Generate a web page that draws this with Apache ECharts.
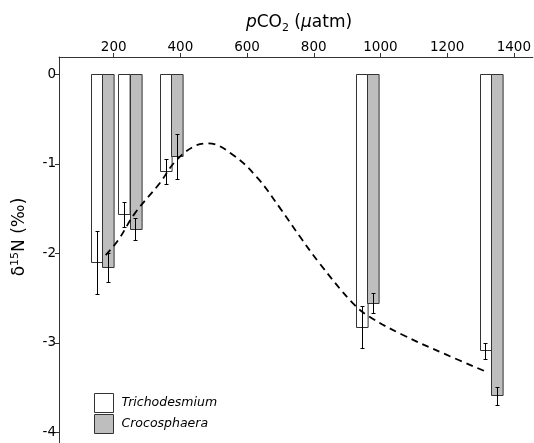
<!DOCTYPE html>
<html>
<head>
<meta charset="utf-8">
<script src="https://cdn.jsdelivr.net/npm/echarts@6/dist/echarts.min.js"></script>
<style>html,body{margin:0;padding:0;background:#fff}#c{width:534px;height:443px}</style>
</head>
<body>
<div id="c"></div>
<script>
// pCO2 positions of the bar groups (µatm)
const pco2 = [166, 248, 373, 961, 1332];
// Trichodesmium δ15N mean and error
const trichoMean = [-2.10, -1.57, -1.08, -2.825, -3.09];
const trichoErr = [0.35, 0.14, 0.14, 0.235, 0.09];
// Crocosphaera δ15N mean and error
const crocoMean = [-2.16, -1.73, -0.92, -2.557, -3.59];
const crocoErr = [0.16, 0.12, 0.25, 0.11, 0.10];
// dashed fitted curve
const curveX = [176, 214, 264, 338, 383, 438, 483, 558, 632, 700, 760, 817, 917, 966, 1066, 1196, 1315];
const curveY = [-2.02, -1.85, -1.55, -1.216, -0.98, -0.81, -0.77, -0.9, -1.16, -1.5, -1.82, -2.11, -2.557, -2.706, -2.91, -3.13, -3.32];
// tick labels
const xTicks = [200, 400, 600, 800, 1000, 1200, 1400];
const yTicks = [0, -1, -2, -3, -4];

const BW = 11.6;
const edge = '#333';
const gray = '#bebebe';

function barSeries(name, mean, side, color) {
  return {
    name: name, type: 'custom',
    itemStyle: {color: color, borderColor: edge, borderWidth: 1},
    data: pco2.map((x, i) => [x, mean[i]]),
    renderItem: function (params, api) {
      const top = api.coord([api.value(0), 0]);
      const bot = api.coord([api.value(0), api.value(1)]);
      const x0 = side < 0 ? top[0] - BW : top[0];
      return {type: 'rect', shape: {x: Math.round(x0) + 0.5, y: Math.round(top[1]) + 0.5, width: BW, height: Math.round(bot[1] - top[1])},
        style: {fill: color, stroke: edge, lineWidth: 1}};
    },
    z: 2
  };
}
function errSeries(mean, err, side) {
  return {
    type: 'custom', silent: true,
    data: pco2.map((x, i) => [x, mean[i], err[i]]),
    renderItem: function (params, api) {
      const x = api.value(0), m = api.value(1), e = api.value(2);
      const a = api.coord([x, m + e]);
      const b = api.coord([x, m - e]);
      const cx = Math.round(a[0] + side * BW / 2) + 0.5;
      const ya = Math.round(a[1]) + 0.5, yb = Math.round(b[1]) + 0.5;
      const st = {stroke: '#000', lineWidth: 1};
      return {type: 'group', children: [
        {type: 'line', shape: {x1: cx, y1: ya, x2: cx, y2: yb}, style: st},
        {type: 'line', shape: {x1: cx - 2, y1: ya, x2: cx + 2, y2: ya}, style: st},
        {type: 'line', shape: {x1: cx - 2, y1: yb, x2: cx + 2, y2: yb}, style: st}
      ]};
    },
    z: 3
  };
}

const chart = echarts.init(document.getElementById('c'));
chart.setOption({
  animation: false,
  backgroundColor: '#fff',
  grid: {left: 59, top: 57, right: 0, bottom: 0, containLabel: false},
  xAxis: {
    type: 'value', position: 'top', min: 36, max: 1457,
    axisLine: {show: true, onZero: false, lineStyle: {color: edge, width: 1}},
    axisTick: {show: true, length: 4, lineStyle: {color: edge}, customValues: xTicks},
    axisLabel: {customValues: xTicks, formatter: v => String(v), color: '#000', fontSize: 13.5, fontFamily: 'DejaVu Sans', margin: 3},
    splitLine: {show: false}
  },
  yAxis: {
    type: 'value', min: -4.12, max: 0.195,
    axisLine: {show: true, onZero: false, lineStyle: {color: edge, width: 1}},
    axisTick: {show: true, length: 4, lineStyle: {color: edge}, customValues: yTicks},
    axisLabel: {customValues: yTicks, formatter: v => String(v), color: '#000', fontSize: 13.5, fontFamily: 'DejaVu Sans', margin: 3},
    splitLine: {show: false}
  },
  legend: {
    left: 94, top: 393, orient: 'vertical', itemWidth: 19, itemHeight: 19, itemGap: 1, icon: 'rect',
    padding: 0, height: 60,
    textStyle: {fontSize: 12.5, fontStyle: 'italic', fontFamily: 'DejaVu Sans', color: '#000', padding: [0, 0, 0, 3]},
    data: [
      {name: 'Trichodesmium', itemStyle: {color: '#fff', borderColor: edge, borderWidth: 1}},
      {name: 'Crocosphaera', itemStyle: {color: gray, borderColor: edge, borderWidth: 1}}
    ]
  },
  graphic: [
    {type: 'text', x: 299, y: 23, style: {
      text: '{i|p}CO{s|2} ({i|μ}atm)', x: 0, y: 0, align: 'center', verticalAlign: 'middle',
      font: '17px "DejaVu Sans"', fill: '#000',
      rich: {i: {fontStyle: 'italic', fontSize: 17, fontFamily: 'DejaVu Sans'}, s: {fontSize: 11, fontFamily: 'DejaVu Sans', padding: [10, 0, 0, 0]}}
    }},
    {type: 'text', x: 20, y: 237, rotation: Math.PI / 2, style: {
      text: 'δ{s|15}N (‰)', x: 0, y: 0, align: 'center', verticalAlign: 'middle',
      font: '17px "DejaVu Sans"', fill: '#000',
      rich: {s: {fontSize: 11, fontFamily: 'DejaVu Sans', padding: [0, 0, 10, 0]}}
    }}
  ],
  series: [
    barSeries('Trichodesmium', trichoMean, -1, '#fff'),
    barSeries('Crocosphaera', crocoMean, 1, gray),
    errSeries(trichoMean, trichoErr, -1),
    errSeries(crocoMean, crocoErr, 1),
    {type: 'line', data: curveX.map((x, i) => [x, curveY[i]]), smooth: 0.4, symbol: 'none', silent: true,
      lineStyle: {color: '#000', width: 1.8, type: [7, 5]}, z: 4}
  ]
});
</script>
</body>
</html>
